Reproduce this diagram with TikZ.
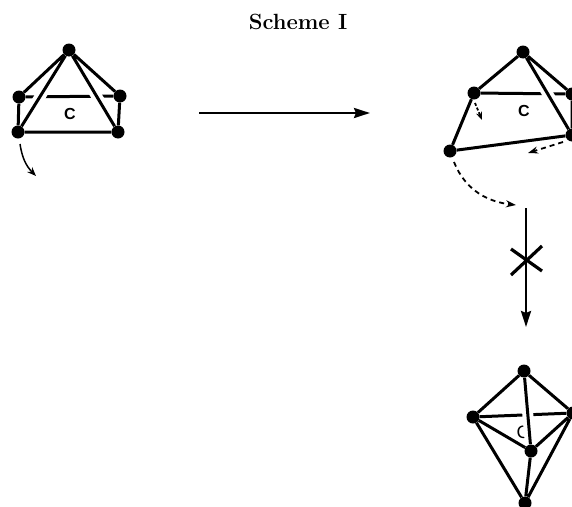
\documentclass[tikz,border=0pt]{standalone}
\usepackage{fontspec}
\setmainfont{Latin Modern Roman}
\newfontfamily\labelfont{Liberation Sans}
\usetikzlibrary{arrows.meta}
\tikzset{
  atom/.style={circle,fill=black,inner sep=0pt,minimum size=13pt},
  bond/.style={line width=3pt},
  halo/.style={white,line width=11pt},
  clabel/.style={inner sep=0pt,font=\labelfont\bfseries\fontsize{16}{16}\selectfont},
  mainarrow/.style={line width=2.5pt,-{Stealth[length=16pt,width=10pt,inset=2pt]}},
  move/.style={line width=1.5pt,-{Stealth[length=9pt,width=7pt]}},
  dashmove/.style={line width=1.8pt,dash pattern=on 5pt off 4pt,-{Stealth[length=10pt,width=7pt]}},
}
\begin{document}
\begin{tikzpicture}[x=1pt,y=-1pt]
\useasboundingbox (0,0) rectangle (572,506);
\clip (0,0) rectangle (572,506);
\node[inner sep=0pt,font=\bfseries\fontsize{22}{22}\selectfont] (title) at (298,22) {Scheme I};

% left figure
\node[atom] (a1) at (69,50) {};
\node[atom] (a2) at (19,97) {};
\node[atom] (a3) at (120,96) {};
\node[atom] (a4) at (18,132) {};
\node[atom] (a5) at (118,132) {};
\node[clabel] (ac) at (70,114) {C};
\draw[bond] (a2) -- (a3);
\draw[halo] (a1) -- (a4);
\draw[halo] (a1) -- (a5);
\draw[bond] (a1) -- (a2) (a1) -- (a3) (a1) -- (a4) (a1) -- (a5)
  (a2) -- (a4) (a3) -- (a5) (a4) -- (a5);
\coordinate (as) at (20,144);
\coordinate (ae) at (36,176);
\draw[move] (as) to[bend right=18] (ae);

% right figure
\node[atom] (b1) at (523,52) {};
\node[atom] (b2) at (474,93) {};
\node[atom] (b3) at (572,94) {};
\node[atom] (b4) at (450,151) {};
\node[atom] (b5) at (572,135) {};
\node[clabel] (bc) at (524,111) {C};
\draw[bond] (b2) -- (b3);
\draw[halo] (b1) -- (b5);
\draw[bond] (b1) -- (b2) (b1) -- (b3) (b1) -- (b5) (b2) -- (b4) (b4) -- (b5) (b3) -- (b5);
\coordinate (bs1) at (475,103);
\coordinate (be1) at (482,120);
\draw[dashmove,dash pattern=on 3pt off 2pt,-{Stealth[length=8pt,width=6pt]}] (bs1) -- (be1);
\coordinate (bs2) at (563,142);
\coordinate (be2) at (528,153);
\draw[dashmove] (bs2) -- (be2);
\coordinate (bs3) at (454,162);
\coordinate (be3) at (516,205);
\draw[dashmove] (bs3) .. controls (466,192) and (490,202) .. (be3);

% arrows
\coordinate (h1) at (199,113);
\coordinate (h2) at (370,113);
\draw[mainarrow] (h1) -- (h2);
\coordinate (v1) at (526,208);
\coordinate (v2) at (526,327);
\draw[mainarrow] (v1) -- (v2);
\coordinate (x1) at (511,249);
\coordinate (x2) at (542,271);
\coordinate (x3) at (511,275);
\coordinate (x4) at (542,246);
\draw[line width=3.2pt] (x1) -- (x2) (x3) -- (x4);

% lower figure
\node[atom] (c1) at (524,371) {};
\node[atom] (c2) at (473,417) {};
\node[atom] (c3) at (573,413) {};
\node[atom] (c4) at (531,451) {};
\node[atom] (c5) at (525,503) {};
\node[inner sep=0pt,font=\labelfont\fontsize{18}{18}\selectfont] (cc) at (523,432) {C};
\draw[bond] (c2) -- (c3);
\draw[halo] (c1) -- (c4);
\draw[bond] (c1) -- (c2) (c1) -- (c3) (c1) -- (c4) (c2) -- (c4) (c3) -- (c4)
  (c2) -- (c5) (c3) -- (c5) (c4) -- (c5);
\end{tikzpicture}
\end{document}
